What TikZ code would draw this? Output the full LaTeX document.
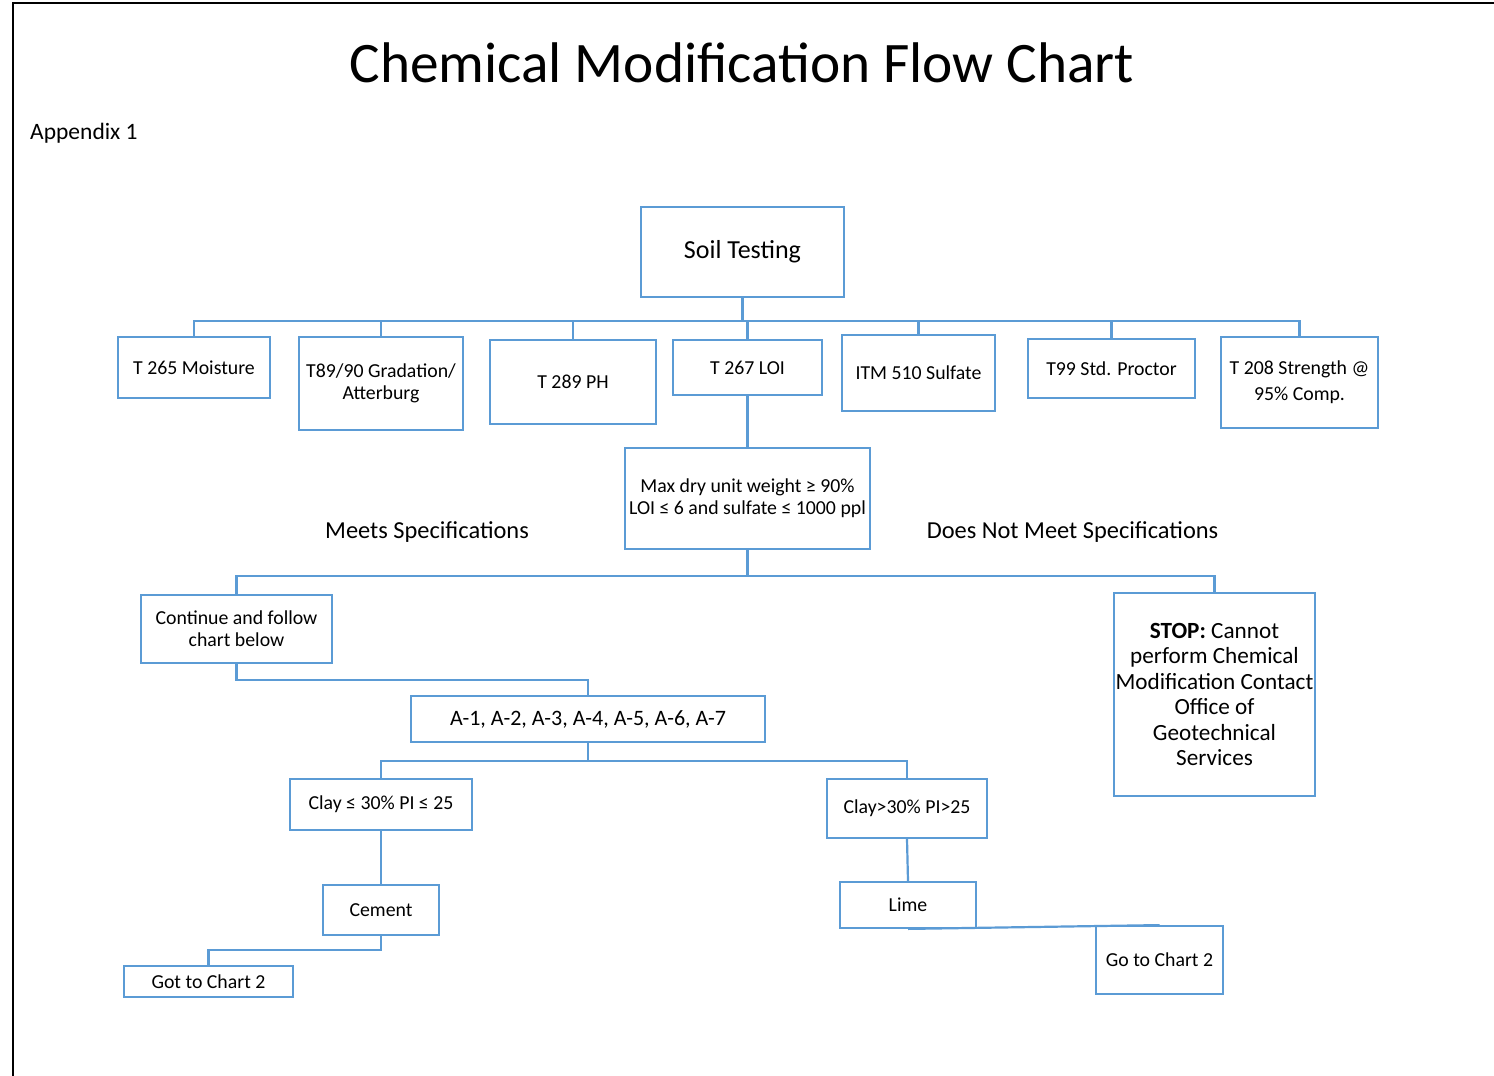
\documentclass[tikz,border=0pt]{standalone}
\usepackage{fontspec}
\setmainfont{Carlito}
\definecolor{lineblue}{RGB}{91,155,213}
\newcommand\fsz[2]{\fontsize{#1}{#2}\selectfont}
\tikzset{
  box/.style={draw=lineblue, line width=1.8pt, inner sep=0pt, align=center, fill=white, font=\fsz{19.8}{22}},
  conn/.style={draw=lineblue, line width=2.2pt},
  lbl/.style={inner sep=0pt, align=center}
}
\begin{document}
\begin{tikzpicture}[x=1pt,y=-1pt]
\useasboundingbox[fill=white] (0,0) rectangle (1494,1076);
\draw[line width=2.4pt] (13,1076) -- (13,3) -- (1494,3);

\node[lbl, font=\fsz{57.3}{62}] (title) at (742,63) {Chemical Modification Flow Chart};
\node[lbl, anchor=west, font=\fsz{23.5}{26}] (appx) at (30,133) {Appendix 1};

\node[box, minimum width=203pt, minimum height=90pt, font=\fsz{26}{29}] (soil) at (742.5,252) {Soil Testing};
\node[box, minimum width=152pt, minimum height=61pt] (t265) at (194,367.5) {T 265 Moisture};
\node[box, minimum width=164pt, minimum height=93pt] (t89) at (381,383.5) {T89/90 Gradation/\\Atterburg};
\node[box, minimum width=166pt, minimum height=84pt] (t289) at (573,382) {T 289 PH};
\node[box, minimum width=149pt, minimum height=55pt] (t267) at (747.5,367.5) {T 267 LOI};
\node[box, minimum width=153pt, minimum height=76pt] (itm) at (918.5,373) {ITM 510 Sulfate};
\node[box, minimum width=167pt, minimum height=59pt] (t99) at (1111.5,368.5) {T99 Std. Proctor};
\node[box, minimum width=157pt, minimum height=91pt, font=\fsz{19.8}{26}] (t208) at (1299.5,382.5) {T 208 Strength @\\95\% Comp.};

\node[box, minimum width=245pt, minimum height=101pt] (maxd) at (747.5,498.5) {Max dry unit weight ≥ 90\%\\LOI ≤ 6 and sulfate ≤ 1000 ppl};
\node[lbl, font=\fsz{24.4}{28}] (meets) at (427,532) {Meets Specifications};
\node[lbl, font=\fsz{24.4}{28}] (notmeet) at (1072.5,532) {Does Not Meet Specifications};

\node[box, minimum width=191pt, minimum height=68pt] (cont) at (236.5,629) {Continue and follow\\chart below};
\node[box, minimum width=201pt, minimum height=203pt, font=\fsz{23.2}{25.4}] (stop) at (1214.5,694.5) {\textbf{STOP:} Cannot\\perform Chemical\\Modification Contact\\Office of\\Geotechnical\\Services};

\node[box, minimum width=354pt, minimum height=46pt, font=\fsz{22}{24}] (acls) at (588,719) {A-1, A-2, A-3, A-4, A-5, A-6, A-7};
\node[box, minimum width=182pt, minimum height=51pt] (clay1) at (381,804.5) {Clay ≤ 30\% PI ≤ 25};
\node[box, minimum width=160pt, minimum height=59pt] (clay2) at (907,808.5) {Clay>30\% PI>25};
\node[box, minimum width=116pt, minimum height=50pt] (cement) at (381,910) {Cement};
\node[box, minimum width=136pt, minimum height=46pt] (lime) at (908,905) {Lime};
\node[box, minimum width=169pt, minimum height=31pt] (got) at (208.5,981.5) {Got to Chart 2};
\node[box, minimum width=127pt, minimum height=68pt] (goto) at (1159.5,960) {Go to Chart 2};

\coordinate (b1) at (0,321);
\coordinate (b2) at (0,576);
\coordinate (b3) at (0,680);
\coordinate (b4) at (0,761);
\coordinate (b5) at (0,950);

\draw[conn] (soil.south) -- (soil.south |- b1);
\foreach \t in {t265,t89,t289,t267,itm,t99,t208}
  \draw[conn] (soil.south |- b1) -| (\t.north);
\draw[conn] (t267.south) -- (maxd.north);
\draw[conn] (maxd.south) -- (maxd.south |- b2) -| (cont.north);
\draw[conn] (maxd.south |- b2) -| (stop.north);
\draw[conn] (cont.south) -- (cont.south |- b3) -| (acls.north);
\draw[conn] (acls.south) -- (acls.south |- b4) -| (clay1.north);
\draw[conn] (acls.south |- b4) -| (clay2.north);
\draw[conn] (clay1.south) -- (cement.north);
\draw[conn] (clay2.south) -- (lime.north);
\draw[conn] (cement.south) -- (cement.south |- b5) -| (got.north);
\draw[conn] (lime.south) -- (goto.north);
\end{tikzpicture}
\end{document}
